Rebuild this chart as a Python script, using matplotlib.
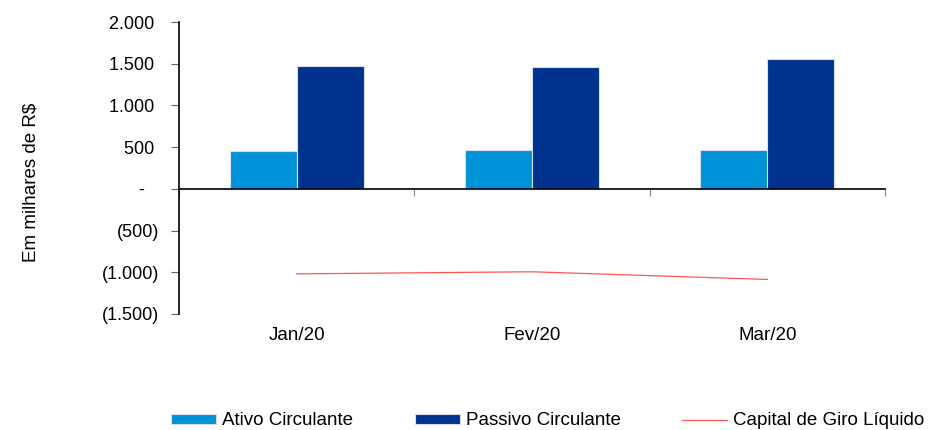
import numpy as np
import matplotlib.pyplot as plt
from matplotlib.ticker import FuncFormatter
from matplotlib.transforms import blended_transform_factory

plt.rcParams['font.family'] = ['Liberation Sans', 'DejaVu Sans']
plt.rcParams['font.size'] = 13.5

meses = ['Jan/20', 'Fev/20', 'Mar/20']
ativo = [459, 466, 468]
passivo = [1478, 1460, 1554]
capital_giro = [a - p for a, p in zip(ativo, passivo)]


def fmt_milhar(v, pos):
    # formato contabil: negativos entre parenteses, zero como traco
    if abs(v) < 1e-9:
        return '-   '
    s = '{:,.0f}'.format(abs(v)).replace(',', '.')
    return '({})'.format(s) if v < 0 else s + ' '


fig = plt.figure(figsize=(9.3, 4.3), dpi=100)
ax = fig.add_axes([0.1925, 0.2698, 0.7591, 0.679])

x = np.arange(len(meses))
w = 0.284
b1 = ax.bar(x - w / 2, ativo, w, color='#0092D8', edgecolor='#d6dff0', linewidth=0.8,
            label='Ativo Circulante', zorder=2)
b2 = ax.bar(x + w / 2, passivo, w, color='#00338E', edgecolor='#d6dff0', linewidth=0.8,
            label='Passivo Circulante', zorder=2)
l1, = ax.plot(x, capital_giro, color='#FF5555', linewidth=0.9,
              label='Capital de Giro Líquido', zorder=3)

ax.set_xlim(-0.5, len(meses) - 0.5)
ax.set_ylim(-1500, 2000)
ax.set_yticks(np.arange(-1500, 2001, 500))
ax.yaxis.set_major_formatter(FuncFormatter(fmt_milhar))
ax.tick_params(axis='y', length=6, color='#666666', pad=8, labelsize=13)

# eixo x na linha do zero, marcas entre categorias
ax.spines['bottom'].set_position(('data', 0))
ax.spines['bottom'].set_linewidth(1.2)
ax.spines['left'].set_linewidth(1.2)
ax.spines['top'].set_visible(False)
ax.spines['right'].set_visible(False)
ax.set_xticks(np.arange(-0.5, len(meses), 1.0))
ax.set_xticklabels([])
ax.tick_params(axis='x', length=5, color='#888888', direction='out')

trans = blended_transform_factory(ax.transData, ax.transAxes)
for i, m in enumerate(meses):
    ax.text(i, -0.075, m, transform=trans, ha='center', va='center', fontsize=13.5)

ax.set_ylabel('Em milhares de R$', fontsize=13.5)
ax.yaxis.set_label_coords(-0.198, 0.452)

fig.legend([b1, b2, l1], [b1.get_label(), b2.get_label(), l1.get_label()],
           loc='center', bbox_to_anchor=(0.589, 0.021), ncol=3, frameon=False,
           handlelength=2.4, handleheight=0.48, handletextpad=0.3,
           columnspacing=3.3, fontsize=13.5)

fig.savefig('out.png', dpi=100, facecolor='white')
